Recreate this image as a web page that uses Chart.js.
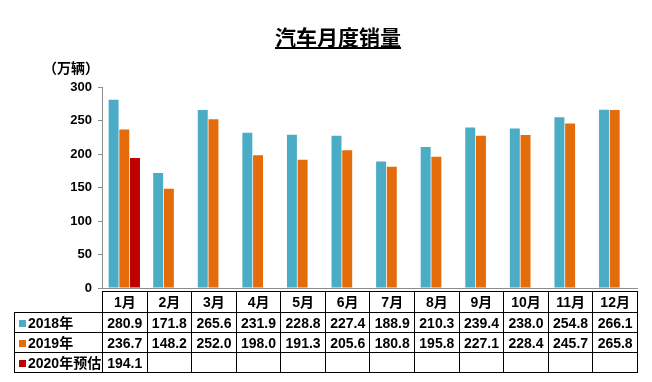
<!DOCTYPE html>
<html>
<head>
<meta charset="utf-8">
<script src="https://cdn.jsdelivr.net/npm/chart.js@4/dist/chart.umd.min.js"></script>
<style>
  html, body { margin:0; padding:0; background:#fff; }
  #wrap { position:relative; width:652px; height:382px; overflow:hidden; font-family:"Liberation Sans","Noto Sans CJK SC",Arial,sans-serif; }
  #c { position:absolute; left:0; top:0; }
  #title { position:absolute; left:0; width:676px; top:23px; text-align:center; font-size:21px; font-weight:bold; line-height:26px; color:#000; font-family:"Noto Sans CJK SC",sans-serif; }
  #title span { text-decoration:underline; text-underline-offset:2px; text-decoration-thickness:1.5px; }
  #unit { position:absolute; left:43px; top:58px; font-size:14px; font-weight:bold; color:#000; font-family:"Noto Sans CJK SC",sans-serif; line-height:18px; }
  #tbl { position:absolute; border-collapse:collapse; table-layout:fixed; font-size:14px; font-weight:bold; color:#000; }
  #tbl td { border:1px solid #000; padding:0; text-align:center; white-space:nowrap; overflow:hidden; line-height:16px; font-family:"Liberation Sans","Noto Sans CJK SC",Arial,sans-serif; }
  #tbl td.corner { border-top-style:hidden; border-left-style:hidden; }
  #tbl td.lab { text-align:left; padding-left:4px; }
  .sq { display:inline-block; width:7px; height:7px; margin-right:2px; vertical-align:1px; }
</style>
</head>
<body>
<div id="wrap">
  <canvas id="c" width="652" height="382"></canvas>
  <div id="title"><span>汽车月度销量</span></div>
  <div id="unit">（万辆）</div>
  <table id="tbl"></table>
</div>
<script>
const months = ["1月","2月","3月","4月","5月","6月","7月","8月","9月","10月","11月","12月"];
const seriesNames = ["2018年","2019年","2020年预估"];
const sales2018 = [280.9,171.8,265.6,231.9,228.8,227.4,188.9,210.3,239.4,238.0,254.8,266.1];
const sales2019 = [236.7,148.2,252.0,198.0,191.3,205.6,180.8,195.8,227.1,228.4,245.7,265.8];
const sales2020 = [194.1,null,null,null,null,null,null,null,null,null,null,null];
const yTicks = [0,50,100,150,200,250,300];

const colors = ["#4BACC6","#E46C0A","#C00000"];
const allSeries = [sales2018, sales2019, sales2020];

const chart = new Chart(document.getElementById('c'), {
  type: 'bar',
  data: {
    labels: months,
    datasets: allSeries.map((d,i)=>({
      label: seriesNames[i],
      data: d,
      backgroundColor: colors[i],
      borderWidth: 0,
      categoryPercentage: 0.72,
      barPercentage: 0.93
    }))
  },
  options: {
    responsive: false,
    animation: false,
    devicePixelRatio: 1,
    layout: { padding: { top: 87, bottom: 94, left: 0, right: 15 } },
    plugins: { legend: { display: false }, title: { display: false }, tooltip: { enabled: false } },
    scales: {
      x: {
        ticks: { display: false },
        grid: { display: false },
        border: { display: true, color: '#8c8c8c', width: 1 },
        afterFit: s => { s.height = 0; }
      },
      y: {
        min: 0, max: 300,
        afterBuildTicks: s => { s.ticks = yTicks.map(v=>({value:v})); },
        ticks: { color:'#000', padding: 6, font: { family: '"Liberation Sans", Arial, sans-serif', size: 13, weight: 'bold' } },
        grid: { display: true, drawOnChartArea: false, drawTicks: true, tickLength: 4, color: '#8c8c8c' },
        border: { display: true, color: '#8c8c8c', width: 1 },
        afterFit: s => { s.width = 102; }
      }
    }
  }
});

// Build data table aligned to the chart's x scale
const ca = chart.chartArea;
const labelLeft = 14;
const colW = (ca.right - ca.left) / months.length;
const tbl = document.getElementById('tbl');
tbl.style.left = labelLeft + 'px';
tbl.style.top = (ca.bottom + 3) + 'px';
tbl.style.width = (ca.right - labelLeft) + 'px';
let html = '<colgroup><col style="width:' + (ca.left - labelLeft) + 'px">';
months.forEach(()=>{ html += '<col style="width:' + colW + 'px">'; });
html += '</colgroup>';
html += '<tr style="height:21px"><td class="corner"></td>' + months.map(m=>'<td>'+m+'</td>').join('') + '</tr>';
allSeries.forEach((d,i)=>{
  html += '<tr style="height:20px"><td class="lab"><span class="sq" style="background:'+colors[i]+'"></span>' + seriesNames[i] + '</td>';
  html += d.map(v=>'<td>' + (v==null ? '' : v.toFixed(1)) + '</td>').join('') + '</tr>';
});
tbl.innerHTML = html;
</script>
</body>
</html>
